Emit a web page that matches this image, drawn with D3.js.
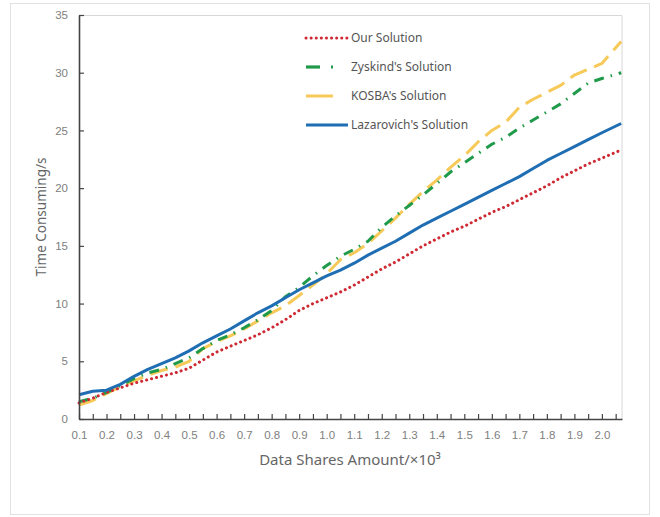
<!DOCTYPE html>
<html>
<head>
<meta charset="utf-8">
<script src="https://cdn.jsdelivr.net/npm/d3@7"></script>
<style>
  body { margin: 0; background: #fff; }
  svg { font-family: "Noto Sans", "Open Sans", sans-serif; }
</style>
</head>
<body>
<svg width="660" height="517"></svg>
<script>
// data
var xs = [0.1,0.15,0.2,0.25,0.3,0.35,0.4,0.45,0.5,0.55,0.6,0.65,0.7,0.75,0.8,0.85,0.9,0.95,1.0,1.05,
          1.1,1.15,1.2,1.25,1.3,1.35,1.4,1.45,1.5,1.55,1.6,1.65,1.7,1.75,1.8,1.85,1.9,1.95,2.0,2.07];
var ourSolution = [1.4,1.8,2.3,2.7,3.1,3.4,3.7,4.0,4.4,5.1,5.8,6.3,6.8,7.3,7.9,8.6,9.4,10.0,10.5,11.0,
                   11.6,12.3,13.0,13.6,14.3,15.0,15.6,16.2,16.7,17.3,17.9,18.4,19.0,19.6,20.2,20.9,21.5,22.1,22.6,23.3];
var zyskind = [1.5,1.8,2.3,2.9,3.5,4.0,4.3,4.8,5.3,6.1,6.8,7.3,7.9,8.6,9.4,10.6,11.4,12.4,13.3,14.1,
               14.7,15.4,16.6,17.6,18.5,19.4,20.4,21.4,22.2,23.0,23.8,24.4,25.2,25.9,26.6,27.3,28.2,29.1,29.5,30.0];
var kosba = [1.2,1.6,2.2,2.8,3.3,3.8,4.2,4.5,5.0,6.1,6.7,7.2,7.8,8.5,9.2,9.8,10.7,11.6,12.6,13.8,
             14.4,15.2,16.3,17.4,18.6,19.7,20.7,21.8,22.8,24.0,25.0,25.7,27.0,27.7,28.3,28.9,29.8,30.3,30.8,32.7];
var lazarovich = [2.1,2.4,2.5,3.0,3.7,4.3,4.8,5.3,5.9,6.6,7.2,7.8,8.5,9.2,9.8,10.5,11.2,11.8,12.4,12.9,
                  13.5,14.2,14.8,15.4,16.1,16.8,17.4,18.0,18.6,19.2,19.8,20.4,21.0,21.7,22.4,23.0,23.6,24.2,24.8,25.6];
var seriesNames = ["Our Solution", "Zyskind's Solution", "KOSBA's Solution", "Lazarovich's Solution"];
var xTickValues = [0.1,0.2,0.3,0.4,0.5,0.6,0.7,0.8,0.9,1.0,1.1,1.2,1.3,1.4,1.5,1.6,1.7,1.8,1.9,2.0];
var yTickValues = [0,5,10,15,20,25,30,35];

var svg = d3.select("svg");
var margin = {left: 79, right: 38, top: 15, bottom: 98};
var w = 660 - margin.left - margin.right,
    h = 517 - margin.top - margin.bottom;

// outer frame
svg.append("rect").attr("x", 10.5).attr("y", 3.5).attr("width", 639).attr("height", 511)
   .attr("fill", "none").attr("stroke", "#e2e2e2");

var g = svg.append("g").attr("transform", "translate(" + margin.left + "," + margin.top + ")");

var x = d3.scaleLinear().domain([0.1, 2.073]).range([0, w]);
var y = d3.scaleLinear().domain([0, 35]).range([h, 0]);

// plot box top/right
g.append("path").attr("d", "M0,0.5H" + w + "V" + h)
  .attr("fill", "none").attr("stroke", "#d8d8d8");

var styles = [
  {data: ourSolution, color: "#cf2a33", width: 3, dash: "0.1 5", cap: "round"},
  {data: zyskind, color: "#1f9a4b", width: 3, dash: "10 7 1.5 7", cap: "butt"},
  {data: kosba, color: "#f6c958", width: 3, dash: "18 8", cap: "butt"},
  {data: lazarovich, color: "#1f6eb4", width: 3, dash: null, cap: "butt"}
];

var line = d3.line().x(function(d, i) { return x(xs[i]); }).y(function(d) { return y(d); });

// draw in order so blue sits on top
[2, 1, 0, 3].forEach(function(k) {
  var s = styles[k];
  g.append("path").datum(s.data)
    .attr("d", line)
    .attr("fill", "none")
    .attr("stroke", s.color)
    .attr("stroke-width", s.width)
    .attr("stroke-dasharray", s.dash)
    .attr("stroke-linecap", s.cap)
    .attr("stroke-linejoin", "round");
});

// axes
var xAxis = d3.axisBottom(x).tickValues(xTickValues).tickFormat(d3.format(".1f")).tickSizeInner(-5).tickSizeOuter(0);
var xMinor = d3.axisBottom(x).tickValues(d3.range(0.15, 2.07, 0.1)).tickFormat("").tickSizeInner(-5).tickSizeOuter(0);
var yAxis = d3.axisLeft(y).tickValues(yTickValues).tickSizeInner(-5).tickSizeOuter(0);

var gx = g.append("g").attr("transform", "translate(0," + h + ")").call(xAxis);
g.append("g").attr("transform", "translate(0," + h + ")").call(xMinor)
  .select(".domain").remove();
var gy = g.append("g").call(yAxis);

g.selectAll(".domain").attr("stroke", "#444").attr("stroke-width", 1.6);
g.selectAll(".tick line").attr("stroke", "#444").attr("stroke-width", 1.2);
gx.selectAll(".tick text").attr("dy", "1.5em").attr("fill", "#808080").attr("font-size", 11.5);
gy.selectAll(".tick text").attr("x", -11).attr("fill", "#808080").attr("font-size", 11.5);

// axis labels
svg.append("text").attr("x", 350).attr("y", 465).attr("text-anchor", "middle")
  .attr("fill", "#666").attr("font-size", 15)
  .text("Data Shares Amount/×10³");
svg.append("text").attr("transform", "translate(46,217) rotate(-90)").attr("text-anchor", "middle")
  .attr("fill", "#666").attr("font-size", 13.5)
  .text("Time Consuming/s");

// legend
var legend = svg.append("g").attr("transform", "translate(306,38)");
seriesNames.forEach(function(name, i) {
  var s = styles[i];
  var row = legend.append("g").attr("transform", "translate(0," + (i * 29) + ")");
  var len = (i == 0 || i == 3) ? 42 : 27;
  if (i == 1) {
    row.append("line").attr("x1", 0).attr("x2", 14).attr("stroke", s.color).attr("stroke-width", 3.2);
    row.append("line").attr("x1", 25).attr("x2", 27).attr("stroke", s.color).attr("stroke-width", 3.2);
  } else {
    row.append("line").attr("x1", 0).attr("x2", len)
      .attr("stroke", s.color).attr("stroke-width", s.width)
      .attr("stroke-dasharray", i == 0 ? s.dash : null)
      .attr("stroke-linecap", s.cap);
  }
  row.append("text").attr("x", 45).attr("dy", "0.35em")
    .attr("fill", "#555").attr("font-size", 12).text(name);
});
</script>
</body>
</html>
